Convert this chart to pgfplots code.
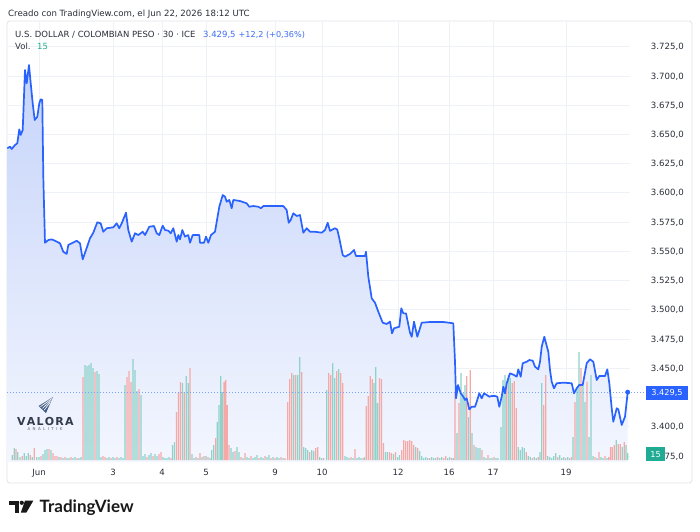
\documentclass[border=0pt]{standalone}
\usepackage{pgfplots}
\pgfplotsset{compat=1.18}
\usepackage{pgfplotstable}
\usepackage{fontspec}
\setmainfont{DejaVu Sans}
\newfontfamily\latofont{Lato}
\definecolor{tvblue}{HTML}{2962FF}
\definecolor{valblue}{HTML}{3C6EF0}
\definecolor{tvgreen}{HTML}{22AB94}
\definecolor{volup}{HTML}{8ED2CA}
\definecolor{voldn}{HTML}{F5A9A7}
\definecolor{gridcol}{HTML}{EEF1F6}
\definecolor{framecol}{HTML}{E0E3EB}
\definecolor{tickcol}{HTML}{2A2E39}
\definecolor{fillTop}{HTML}{C6D4FA}
\definecolor{fillBot}{HTML}{F3F6FE}
\definecolor{navy}{HTML}{34507E}
\definecolor{valtext}{HTML}{323C4C}

\pgfplotstableread{
x p
7.3 3638.1
10 3639.5
11.7 3637.5
15 3640.9
17.3 3642.4
19.3 3654.3
20.7 3649.5
22.7 3653.7
25 3705.1
26.7 3693.7
29 3709.3
30.7 3693.7
32.7 3676.6
34.7 3662.3
37.3 3665.1
39.3 3676.6
40.7 3680
42.3 3679.4
43.3 3613.8
45 3557.3
48.3 3559.6
51.7 3560.2
55 3559
60 3556.8
63.3 3549.6
66.7 3547.7
68.3 3555.4
71.7 3556.8
76.7 3559
80 3556.8
82.7 3543.1
86 3551.1
90 3561.1
93.3 3565.9
97.3 3574.8
100.7 3573.9
103.3 3566.7
106.7 3569.7
113.3 3570.5
116.7 3573.9
119.3 3569.7
121.7 3573.9
126 3583
128.3 3568.2
131.7 3558.2
135 3565.4
138.3 3563.9
142.7 3566.7
145 3563.9
149.3 3571
154 3571.6
156.7 3565.4
159.3 3563.9
162.7 3571.9
165 3568.2
168.3 3567.6
170.7 3565.4
173.3 3569.7
176.7 3558.2
178.3 3563.9
180 3560.2
182.3 3568.2
185 3562.5
188.3 3563.9
190 3557.3
192.7 3563.9
199.3 3563.9
200 3557.3
204 3557.3
206 3562.5
208.3 3557.3
211 3563.9
215 3566.7
219.3 3588.1
222.7 3598.1
225 3596.7
226.7 3592.4
229.3 3593.9
231.7 3586.8
233.3 3593.9
240 3593
246.7 3591
249.3 3588.1
253.3 3588.7
258.3 3588.1
261 3586.8
263.3 3588.7
283.3 3588.7
286.7 3585.3
288.7 3574.4
290.7 3576.8
293.3 3582.5
296.7 3580.2
300 3581
303.3 3565.9
306.7 3569.7
310 3566.7
315 3566.7
321.7 3565.9
325 3568.2
327.7 3574.4
330 3567.5
335 3569.7
337.3 3568.5
339.3 3561.1
342.7 3546.8
345 3545.4
350 3547.7
354 3551.1
356 3546
365 3546
366 3549.6
368.3 3528.3
371.7 3509.8
375 3506
378.3 3498.3
382.7 3488.9
386.7 3487.8
390 3489.8
392 3479.8
394 3484.1
399.3 3485.5
401.3 3501.2
403.3 3496.9
406 3496.9
410 3480.3
411.7 3476.9
414 3489.8
417.3 3476.9
421.7 3488.9
430 3489.5
443.3 3489.5
453.3 3488.4
455 3455.5
456 3424.2
458 3435.6
460.7 3428.5
463.3 3425.6
465 3422.8
466.7 3424.2
469.3 3414.8
471.7 3417
475 3417
476.7 3421.3
479.3 3428.5
481.7 3424.2
484 3428.5
486.7 3427.1
489.3 3425.6
491.7 3426.2
495 3426.2
497.3 3425.6
499.3 3417
501.7 3425.6
503.3 3434.2
505 3428.5
506.7 3437.1
510 3445.6
514 3444.2
516.7 3442.7
518.3 3449
520.7 3442.7
522.7 3454.2
526.7 3455.5
529.3 3457
532.7 3456.4
535 3451.3
538.3 3449
540 3455.5
541.7 3468.4
544.3 3476.9
546 3471.3
548.3 3464.1
550 3448.4
551.7 3438.4
554 3432.8
556.7 3437.1
563.3 3437.6
571.7 3437.1
574 3428.5
576.7 3432.8
579.3 3435.6
582.7 3435.6
586.7 3454.2
590 3457.6
593.3 3455.5
596.7 3439.9
599.3 3443.3
605 3443.3
607.3 3449
609.3 3437.1
611.7 3415.7
613.3 3404.2
616.7 3415.7
618.3 3414.8
621.7 3401.4
625 3408.5
627.7 3429.5
}\pricedata

\pgfplotstableread{
x v
12.3 5
14.3 12
17.7 8
20 3
24.3 7
26.3 4
28.3 7
32.3 3
36.7 3
39 3
43 6
45 10
47 11
51 10
59 3
63 2
67 2
69 2
73 2
75 3
79 2
81 3
85 95
87 94
89 95
91 97
93 92
97 89
99 86
101 3
107 2
109 3
113 3
115 2
119 2
121 3
123 2
125 75
133 101
135 90
137 69
141 65
143 4
145 6
149 5
151 7
155 6
157 4
163 3
165 2
167 2
169 3
172.5 15
174.5 18
182.5 77
186.3 84
188.3 77
192 6
194 2
198 2
202 3
206 4
210 2
211.7 10
213.7 15
217.3 38
219 55
220.7 84
222.3 68
231 12
233 8
237 13
239 8
243 2
247 3
249 2
253 2
255 3
257 5
261 3
263 2
267 3
269 5
273 3
277 3
279 2
283 2
293.7 85
297.7 85
299.7 103
303.7 13
305.7 12
307.7 10
311.7 10
313.7 9
319.7 3
321.7 2
326.7 70
332.7 97
334.7 82
338.7 91
345 4
347 3
349 2
353 2
357 2
359 3
361 2
364.5 3
374 77
375.8 93
377.6 57
385.5 8
387.5 8
393.5 6
397.5 3
399.5 5
415.7 13
419.7 9
421.7 4
423.7 2
425.7 3
427.7 2
431.7 3
433.7 2
435.7 2
439.7 2
441.7 3
447.7 2
449.7 3
453.3 2
457 27
461 87
463 67
465 75
468.5 43
472 27
476 13
478 12
480 12
484 3
486 2
490 2
492 2
496 2
498 2
501 33
503 80
505 85
508.5 85
510.3 82
518.3 13
520.3 10
522.3 13
524.3 12
528.3 4
530.3 3
534.3 3
536.3 2
540 8
541.8 77
547.7 4
549.7 3
551.7 2
553.7 4
555.7 7
559.7 5
561.7 2
563.7 3
567.7 3
569.7 2
573 23
577 73
579 108
583 75
585 58
589 23
591 85
593 4
597 2
601 3
603 2
607 2
616.3 20
622.3 13
626 15
627.7 7
}\volupdata

\pgfplotstableread{
x v
16 11
22.3 4
30.3 5
34.3 12
41 4
49 11
53 7
55 4
57 4
61 3
65 3
71 3
77 2
83 83
95 88
103 4
105 3
111 2
117 3
127 83
129 89
131 78
139 71
147 3
153 4
159 6
161 8
171 2
176.5 48
178.5 68
180.5 78
184.3 68
190 92
196 3
200 7
204 4
208 3
215.7 22
224 78
225.6 80
227.2 55
229 15
235 9
241 3
245 7
251 4
259 2
265 4
271 2
275 2
281 3
285 2
287.7 58
289.7 81
291.7 87
295.7 85
301.7 88
309.7 8
315.7 12
317.7 13
323.7 2
328.7 87
330.7 85
336.7 89
340.7 87
342.7 77
351 3
355 11
363 2
366.3 54
368.3 64
370.3 84
372.3 81
379.4 82
381.5 81
383.5 17
389.5 8
391.5 7
395.5 8
401.7 10
403.7 20
405.7 19
407.7 19
409.7 20
411.7 19
413.7 15
417.7 12
429.7 2
437.7 3
443.7 2
445.7 4
451.7 2
455 68
459 57
466.8 84
470.2 90
474 15
482 10
488 5
494 3
506.8 77
512.3 77
514.3 79
516.3 52
526.3 8
532.3 2
538.3 3
543.7 55
545.7 85
557.7 3
565.7 2
571.5 3
575 58
581 92
587 78
595 3
599 8
605 4
608.7 3
610.5 13
612.3 13
614.3 15
618.3 16
620.3 16
624.3 18
}\voldndata

\pgfplotsset{
  pane/.style={at={(7pt,69pt)}, anchor=south west, scale only axis,
    width=623pt, height=440pt, xmin=7, xmax=630},
  pricey/.style={ymin=3369.74, ymax=3746.13},
}

\begin{document}
\begin{tikzpicture}[x=1pt,y=1pt]
\path[use as bounding box, fill=white] (0,0) rectangle (700,531);
\draw[framecol, rounded corners=3pt, line width=0.8pt] (7,48) rectangle (692,510);

% grid, tick labels and area fill
\begin{axis}[pane, pricey,
  axis line style={draw=none}, major tick length=0pt,
  xtick={39,113,162,206,275,322,398,449,493,566},
  xticklabels={Jun,3,4,5,9,10,12,16,17,19},
  ytick={3400,3450,3475,3500,3525,3550,3575,3600,3625,3650,3675,3700,3725},
  extra y ticks={3375,3425}, extra y tick labels={},
  extra y tick style={grid=major},
  scaled y ticks=false,
  grid=major, major grid style={gridcol, line width=0.7pt},
  yticklabel pos=right,
  yticklabel style={anchor=base east, xshift=54pt, yshift=-3.1pt, inner sep=0pt,
    font=\fontsize{8.6}{10}\selectfont, text=tickcol,
    /pgf/number format/fixed, /pgf/number format/fixed zerofill,
    /pgf/number format/precision=1, /pgf/number format/use comma,
    /pgf/number format/1000 sep={.}, /pgf/number format/assume math mode=true},
  xticklabel style={anchor=base, yshift=-13pt, inner sep=0pt,
    font=\fontsize{8.6}{10}\selectfont, text=tickcol},
]
\addplot[top color=fillTop, bottom color=fillBot, draw=none] table[x=x,y=p] {\pricedata}
  -- (axis cs:627.7,3369.74) -- (axis cs:7.3,3369.74) -- cycle;
\end{axis}

% volume
\begin{axis}[pane, ymin=-2, ymax=438, hide axis]
\addplot[ybar, bar width=1.3pt, bar shift=0pt, fill=volup, draw=none] table[x=x,y=v] {\volupdata};
\addplot[ybar, bar width=1.3pt, bar shift=0pt, fill=voldn, draw=none] table[x=x,y=v] {\voldndata};
\end{axis}

% price line
\begin{axis}[pane, pricey, hide axis, clip=false]
\draw[tvblue!60, line width=0.8pt, dash pattern=on 1pt off 2pt] (axis cs:7,3429.5) -- (axis cs:646,3429.5);
\addplot[tvblue, line width=1.7pt, line join=round, mark=none] table[x=x,y=p] {\pricedata};
\addplot[only marks, mark=*, mark size=2.2pt, tvblue] coordinates {(627.7,3429.5)};
\end{axis}

% price / volume boxes
\fill[tvblue] (646,131) rectangle (688,145);
\node[text=white, inner sep=0pt, font=\fontsize{8.2}{10}\selectfont] at (667,137.6) {3.429,5};
\fill[tvgreen] (646,70) rectangle (665,84);
\node[text=white, inner sep=0pt, font=\fontsize{8.2}{10}\selectfont] at (655.5,76.8) {15};
\node[anchor=base east, inner sep=0pt, font=\fontsize{8.6}{10}\selectfont, text=tickcol] at (684,72) {75,0};

% header
\node[anchor=base west, inner sep=0pt, font=\fontsize{8.6}{10}\selectfont, text=tickcol] at (8,514.3) {Creado con TradingView.com, el Jun 22, 2026 18:12 UTC};
\node[anchor=base west, inner sep=0pt, font=\fontsize{8.5}{10}\selectfont, text=tickcol] at (15,493.7) {U.S. DOLLAR / COLOMBIAN PESO · 30 · ICE};
\node[anchor=base west, inner sep=0pt, font=\fontsize{8.5}{10}\selectfont, text=valblue] at (203,493.7) {3.429,5};
\node[anchor=base west, inner sep=0pt, font=\fontsize{8.1}{10}\selectfont, text=valblue] at (238.5,493.7) {+12,2 (+0,36\%)};
\node[anchor=base west, inner sep=0pt, font=\fontsize{8.5}{10}\selectfont, text=tickcol] at (15,481) {Vol.};
\node[anchor=base west, inner sep=0pt, font=\fontsize{8.5}{10}\selectfont, text=tvgreen] at (37,481) {15};

% VALORA ANALITIK watermark
\shade[top color=navy!70, bottom color=navy] (53,134) -- (38.5,125) -- (46,118) -- cycle;
\draw[white, line width=0.6pt] (52,132.5) -- (40.5,124.3);
\draw[white, line width=0.6pt] (51,130.5) -- (42.5,122.6);
\draw[white, line width=0.6pt] (50,128.5) -- (44.3,121);
\node[anchor=base west, inner sep=0pt, font=\bfseries\fontsize{11}{12}\selectfont, text=valtext] at (17,105.7) {V\kern1.2pt A\kern1.2pt L\kern1.2pt O\kern1.2pt R\kern1.2pt A};
\node[inner sep=0pt, font=\fontsize{4}{5}\selectfont, text=valtext!80] at (45,101.5) {A\kern2.4pt N\kern2.4pt A\kern2.4pt L\kern2.4pt I\kern2.4pt T\kern2.4pt I\kern2.4pt K};

% TradingView logo
\fill[black!90] (9.3,26) rectangle (19,30.3);
\fill[black!90] (14.7,18.3) rectangle (19,30.3);
\fill[black!90] (21.8,28.2) circle (2.1);
\fill[black!90] (25,30.3) -- (33.3,30.3) -- (26.3,18.3) -- (20.8,18.3) -- cycle;
\node[anchor=base west, inner sep=0pt, font=\latofont\bfseries\fontsize{17}{18}\selectfont, text=black!90] at (39.5,18.3) {TradingView};
\end{tikzpicture}
\end{document}
